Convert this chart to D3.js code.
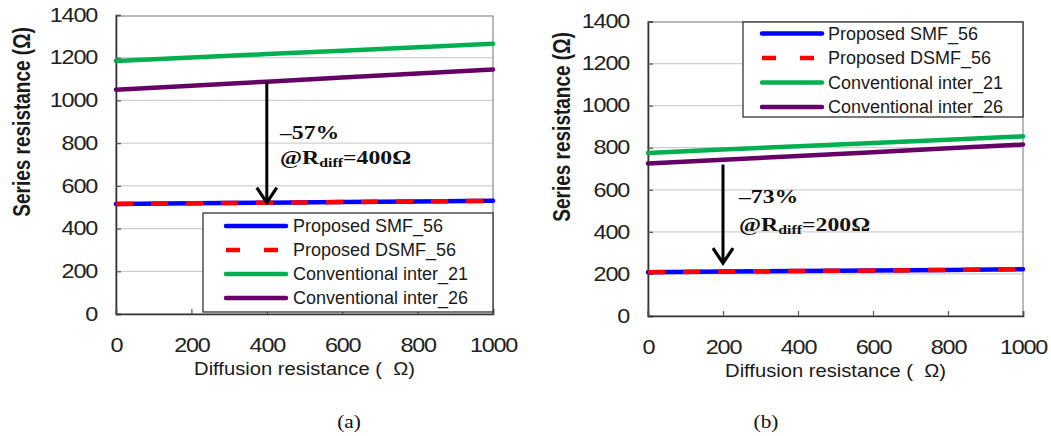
<!DOCTYPE html>
<html>
<head>
<meta charset="utf-8">
<script src="https://cdn.jsdelivr.net/npm/d3@7"></script>
<style>
  html, body { margin: 0; padding: 0; background: #fff; }
  svg { display: block; }
</style>
</head>
<body>
<svg id="fig" width="1051" height="436"></svg>
<script>
// Diffusion resistance sweep (x) and axis ticks
const diffRes = [0, 200, 400, 600, 800, 1000];
const xTicks = [0, 200, 400, 600, 800, 1000];
const yTicks = [0, 200, 400, 600, 800, 1000, 1200, 1400];

const seriesNames = ["Proposed SMF_56", "Proposed DSMF_56", "Conventional inter_21", "Conventional inter_26"];

// Panel (a) series resistance values (Ω)
const aSMF56 = [515, 518, 521, 524, 527, 530];
const aDSMF56 = [515, 518, 521, 524, 527, 530];
const aInter21 = [1185, 1201, 1217, 1233, 1249, 1265];
const aInter26 = [1050, 1069, 1088, 1107, 1126, 1145];

// Panel (b) series resistance values (Ω)
const bSMF56 = [208, 211, 214, 216, 219, 222];
const bDSMF56 = [208, 211, 214, 216, 219, 222];
const bInter21 = [775, 791, 807, 822, 838, 854];
const bInter26 = [725, 743, 761, 779, 797, 815];

// Reduction annotations: arrow at a given R_diff, from / to series resistance
const aNote = { rdiff: 400, from: 1087, to: 522, pct: "\u201357%", val: "=400\u03A9" };
const bNote = { rdiff: 200, from: 720, to: 251, pct: "\u201373%", val: "=200\u03A9" };

const captions = ["(a)", "(b)"];

const styles = [
  { color: "#0000ff", dash: null },
  { color: "#ff0000", dash: "17,18" },
  { color: "#00b050", dash: null },
  { color: "#660066", dash: null }
];

const svg = d3.select("#fig");
const sans = "'Liberation Sans', Arial, sans-serif";
const serif = "'Liberation Serif', 'Times New Roman', serif";

function panel(cfg) {
  const x = d3.scaleLinear().domain([0, 1000]).range([cfg.left, cfg.right]);
  const y = d3.scaleLinear().domain([0, 1400]).range([cfg.bottom, cfg.top]);
  const g = svg.append("g");

  // gridlines
  g.append("g").selectAll("line").data(yTicks.filter(d => d > 0 && d < 1400)).join("line")
    .attr("x1", cfg.left).attr("x2", cfg.right)
    .attr("y1", d => y(d)).attr("y2", d => y(d))
    .attr("stroke", "#cfcfcf").attr("stroke-width", 1.2);

  // plot frame
  g.append("rect")
    .attr("x", cfg.left).attr("y", cfg.frameTop)
    .attr("width", cfg.right - cfg.left).attr("height", cfg.bottom - cfg.frameTop)
    .attr("fill", "none").attr("stroke", "#8a8a8a").attr("stroke-width", 1.2);

  // axes
  const sx = 1.2;
  const ya = g.append("g").attr("transform", `translate(${cfg.left},0)`)
    .call(d3.axisLeft(y).tickValues(yTicks).tickSize(-5).tickPadding(19).tickFormat(d3.format("d")));
  const xa = g.append("g").attr("transform", `translate(0,${cfg.bottom})`)
    .call(d3.axisBottom(x).tickValues(xTicks).tickSize(-5).tickPadding(24).tickFormat(d3.format("d")));
  [ya, xa].forEach(a => {
    a.select(".domain").attr("stroke", "#333").attr("stroke-width", 1.6);
    a.selectAll(".tick line").attr("stroke", "#555").attr("stroke-width", 1.2);
    a.selectAll(".tick text")
      .attr("font-family", sans).attr("font-size", 19.5).attr("fill", "#222")
      .attr("letter-spacing", -1);
  });
  ya.selectAll(".tick text").attr("x", -19 / sx).attr("transform", `scale(${sx},1)`);
  xa.selectAll(".tick text").attr("transform", `scale(${sx},1)`);

  // series lines (dashed DSMF drawn last, over SMF)
  const line = d3.line().x((d, i) => x(diffRes[i])).y(d => y(d));
  [0, 2, 3, 1].forEach(idx => {
    const s = styles[idx];
    g.append("path").datum(cfg.data[idx])
      .attr("d", line).attr("fill", "none")
      .attr("stroke", s.color).attr("stroke-width", 4.5)
      .attr("stroke-dasharray", s.dash)
      .attr("stroke-linecap", s.dash ? "butt" : "round");
  });

  // reduction arrow
  const n = cfg.note;
  const ax = x(n.rdiff), y0 = y(n.from), y1 = y(n.to);
  g.append("line").attr("x1", ax).attr("x2", ax).attr("y1", y0).attr("y2", y1 - 1)
    .attr("stroke", "#000").attr("stroke-width", 3);
  g.append("path")
    .attr("d", `M${ax - 10},${y1 - 15} L${ax},${y1} L${ax + 10},${y1 - 15}`)
    .attr("fill", "none").attr("stroke", "#000").attr("stroke-width", 3.2)
    .attr("stroke-linejoin", "miter");

  g.append("text")
    .attr("transform", `translate(${cfg.noteX},${cfg.noteY1}) scale(1.32,1)`)
    .attr("font-family", serif).attr("font-weight", "bold").attr("font-size", 18)
    .attr("fill", "#111").text(n.pct);
  const t2 = g.append("text")
    .attr("transform", `translate(${cfg.noteX},${cfg.noteY2}) scale(1.32,1)`)
    .attr("font-family", serif).attr("font-weight", "bold").attr("font-size", 18)
    .attr("fill", "#111");
  t2.append("tspan").text("@R");
  t2.append("tspan").attr("font-size", 12).attr("dy", 3).text("diff");
  t2.append("tspan").attr("dy", -3).text(n.val);

  // legend
  const L = cfg.legend;
  g.append("rect").attr("x", L.x).attr("y", L.y).attr("width", L.w).attr("height", L.h)
    .attr("fill", "#fff").attr("stroke", "#222").attr("stroke-width", 1.2);
  seriesNames.forEach((name, i) => {
    const ry = L.row0 + i * L.step;
    const s = styles[i];
    g.append("line").attr("x1", L.lx0).attr("x2", L.lx1).attr("y1", ry).attr("y2", ry)
      .attr("stroke", s.color).attr("stroke-width", 4.5)
      .attr("stroke-linecap", s.dash ? "butt" : "round")
      .attr("stroke-dasharray", s.dash ? "14,24" : null);
    g.append("text").attr("x", L.tx).attr("y", ry).attr("dy", "0.35em")
      .attr("font-family", sans).attr("font-size", 18).attr("fill", "#1a1a1a").text(name);
  });

  // axis titles
  g.append("text")
    .attr("transform", `translate(${(cfg.left + cfg.right) / 2},${cfg.xTitleY}) scale(1.09,1)`)
    .attr("text-anchor", "middle").attr("font-family", sans).attr("font-size", 18.5)
    .attr("fill", "#1a1a1a").attr("xml:space", "preserve").text("Diffusion resistance (  \u03A9)");
  g.append("text")
    .attr("transform", `translate(${cfg.yTitleX},${cfg.yTitleY}) rotate(-90) scale(1,1.25)`)
    .attr("text-anchor", "middle").attr("font-family", sans).attr("font-size", 19)
    .attr("font-weight", "bold").attr("fill", "#1a1a1a").text("Series resistance (\u03A9)");

  // caption
  g.append("text")
    .attr("transform", `translate(${cfg.capX},428) scale(1.15,1)`)
    .attr("text-anchor", "middle")
    .attr("font-family", serif).attr("font-size", 18.5).attr("fill", "#111").text(cfg.caption);
}

panel({
  left: 116, right: 493, bottom: 314, top: 15, frameTop: 16,
  data: [aSMF56, aDSMF56, aInter21, aInter26], note: aNote,
  noteX: 280, noteY1: 139, noteY2: 164,
  legend: { x: 203, y: 213, w: 290, h: 99, row0: 226, step: 24, lx0: 226, lx1: 286, tx: 293 },
  xTitleY: 375, yTitleX: 30, yTitleY: 122, capX: 349, caption: captions[0]
});

panel({
  left: 648, right: 1023, bottom: 316, top: 21.5, frameTop: 22,
  data: [bSMF56, bDSMF56, bInter21, bInter26], note: bNote,
  noteX: 739, noteY1: 203, noteY2: 231,
  legend: { x: 743, y: 22, w: 280, h: 95, row0: 33.5, step: 24.5, lx0: 762, lx1: 822, tx: 828 },
  xTitleY: 377, yTitleX: 570, yTitleY: 127, capX: 766, caption: captions[1]
});
</script>
</body>
</html>
